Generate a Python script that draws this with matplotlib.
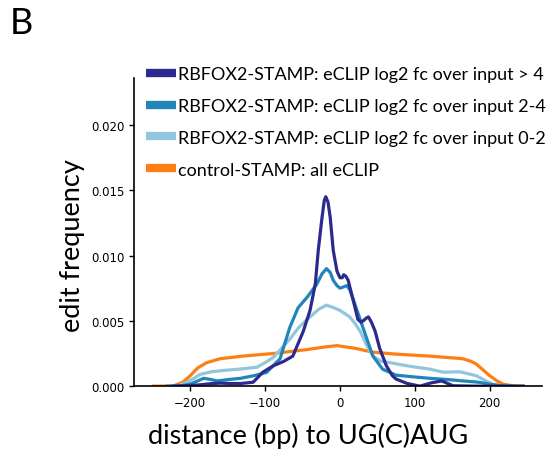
import matplotlib
matplotlib.use("Agg")
import matplotlib.pyplot as plt
from matplotlib.lines import Line2D

# values (distance in bp, edit frequency)
dist_gt4 = [-222, -200, -187, -175, -160, -145, -133, -116, -103, -89, -75, -63, -49, -40, -33, -29,
            -24, -21, -19, -16, -13, -9, -4, 0, 3, 5, 8, 11, 14, 18, 24, 28, 31, 35, 38, 42, 47, 53, 62,
            70, 75, 90, 107, 122, 136, 151, 180, 220, 245]
freq_gt4 = [0.0, 0.00005, 0.0001, 0.00018, 0.00023, 0.0002, 0.0002, 0.0003, 0.00107, 0.00156, 0.0019,
            0.0023, 0.0042, 0.0058, 0.0078, 0.0104, 0.0129, 0.0142, 0.0145, 0.0141, 0.0129, 0.0104, 0.0088,
            0.0083, 0.0083, 0.00853, 0.0084, 0.0081, 0.0074, 0.0065, 0.0051, 0.0049, 0.0050, 0.0052, 0.0053,
            0.0049, 0.0042, 0.0029, 0.00156, 0.0008, 0.00054, 0.0002, 0.0, 0.00025, 0.0004, 0.00003, 0.0,
            0.0, 0.0]

dist_24 = [-230, -212, -200, -190, -182, -172, -164, -150, -133, -115, -98, -80, -67, -56, -44, -31,
           -24, -18, -13, -9, -4, 0, 5, 9, 13, 18, 27, 36, 44, 57, 75, 100, 120, 145, 164, 185, 200, 215, 230]
freq_24 = [0.0, 0.00003, 0.00015, 0.0004, 0.0006, 0.0005, 0.0004, 0.0005, 0.0006, 0.0008, 0.00105, 0.0021,
           0.0045, 0.0060, 0.0068, 0.0078, 0.0086, 0.0090, 0.0087, 0.0081, 0.0077, 0.0075, 0.0076, 0.0077,
           0.0074, 0.0066, 0.0051, 0.0036, 0.0023, 0.0013, 0.00084, 0.0007, 0.0006, 0.0005, 0.0004, 0.0003,
           0.00015, 0.00003, 0.0]

dist_02 = [-230, -215, -204, -195, -187, -172, -156, -135, -111, -100, -89, -78, -67, -55, -40, -28,
           -18, -8, 0, 13, 20, 27, 35, 44, 55, 67, 85, 102, 120, 138, 160, 182, 195, 204, 218, 235]
freq_02 = [0.0, 0.00005, 0.0003, 0.0006, 0.0009, 0.0011, 0.0012, 0.0013, 0.00145, 0.0018, 0.0022, 0.0029,
           0.0036, 0.0045, 0.0053, 0.0059, 0.0062, 0.0060, 0.0058, 0.0053, 0.0048, 0.0042, 0.0032, 0.0023,
           0.0019, 0.0018, 0.0016, 0.00145, 0.0013, 0.00107, 0.0011, 0.0008, 0.0004, 0.00015, 0.00003, 0.0]

dist_ctrl = [-249, -235, -222, -210, -200, -190, -178, -160, -130, -89, -44, -20, -4, 20, 44, 75, 120,
             164, 175, 182, 192, 200, 210, 218, 230, 244]
freq_ctrl = [0.0, 0.00001, 0.00003, 0.0003, 0.0008, 0.0014, 0.0018, 0.0021, 0.0023, 0.0025, 0.0028, 0.0030,
             0.0031, 0.0029, 0.0026, 0.00245, 0.0023, 0.0021, 0.0019, 0.0017, 0.0012, 0.0008, 0.0004, 0.00015,
             0.00003, 0.0]

labels = ["RBFOX2-STAMP: eCLIP log2 fc over input > 4",
          "RBFOX2-STAMP: eCLIP log2 fc over input 2-4",
          "RBFOX2-STAMP: eCLIP log2 fc over input 0-2",
          "control-STAMP: all eCLIP"]
colors = ["#2c2a8e", "#2285ba", "#92c5de", "#fd7f14"]

label_font = "Lato"

fig = plt.figure(figsize=(5.52, 4.56), dpi=100)
ax = fig.add_axes([0.243, 0.151, 0.739, 0.676])

ax.plot(dist_ctrl, freq_ctrl, color=colors[3], lw=2.3, solid_joinstyle="round")
ax.plot(dist_02, freq_02, color=colors[2], lw=2.3, solid_joinstyle="round")
ax.plot(dist_24, freq_24, color=colors[1], lw=2.3, solid_joinstyle="round")
ax.plot(dist_gt4, freq_gt4, color=colors[0], lw=2.3, solid_joinstyle="round")

ax.set_xlim(-275, 270)
ax.set_ylim(0, 0.0236)
ax.set_xticks([-200, -100, 0, 100, 200])
ax.set_yticks([0, 0.005, 0.01, 0.015, 0.02])
ax.set_yticklabels(["0.000", "0.005", "0.010", "0.015", "0.020"])
ax.set_xticklabels(["\u2212200", "\u2212100", "0", "100", "200"])
ax.tick_params(labelsize=8.5, length=3.5, width=1, color="black")
for s in ["top", "right"]:
    ax.spines[s].set_visible(False)
for s in ["left", "bottom"]:
    ax.spines[s].set_linewidth(1.2)

ax.set_xlabel("distance (bp) to UG(C)AUG", family=label_font, fontsize=19.5)
ax.set_ylabel("edit frequency", family=label_font, fontsize=19.5)
ax.xaxis.set_label_coords(0.426, -0.117)
ax.yaxis.set_label_coords(-0.12, 0.46)

handles = [Line2D([0], [0], color=c, lw=6, solid_capstyle="butt") for c in colors]
leg = fig.legend(handles, labels, loc="upper left", bbox_to_anchor=(0.251, 0.869),
                 frameon=False, prop={"family": label_font, "size": 13},
                 handlelength=1.65, handletextpad=0.12, labelspacing=0.88, borderaxespad=0)

fig.text(0.018, 0.985, "B", family=label_font, fontsize=26, va="top", ha="left")

fig.savefig("out.png", dpi=100)
